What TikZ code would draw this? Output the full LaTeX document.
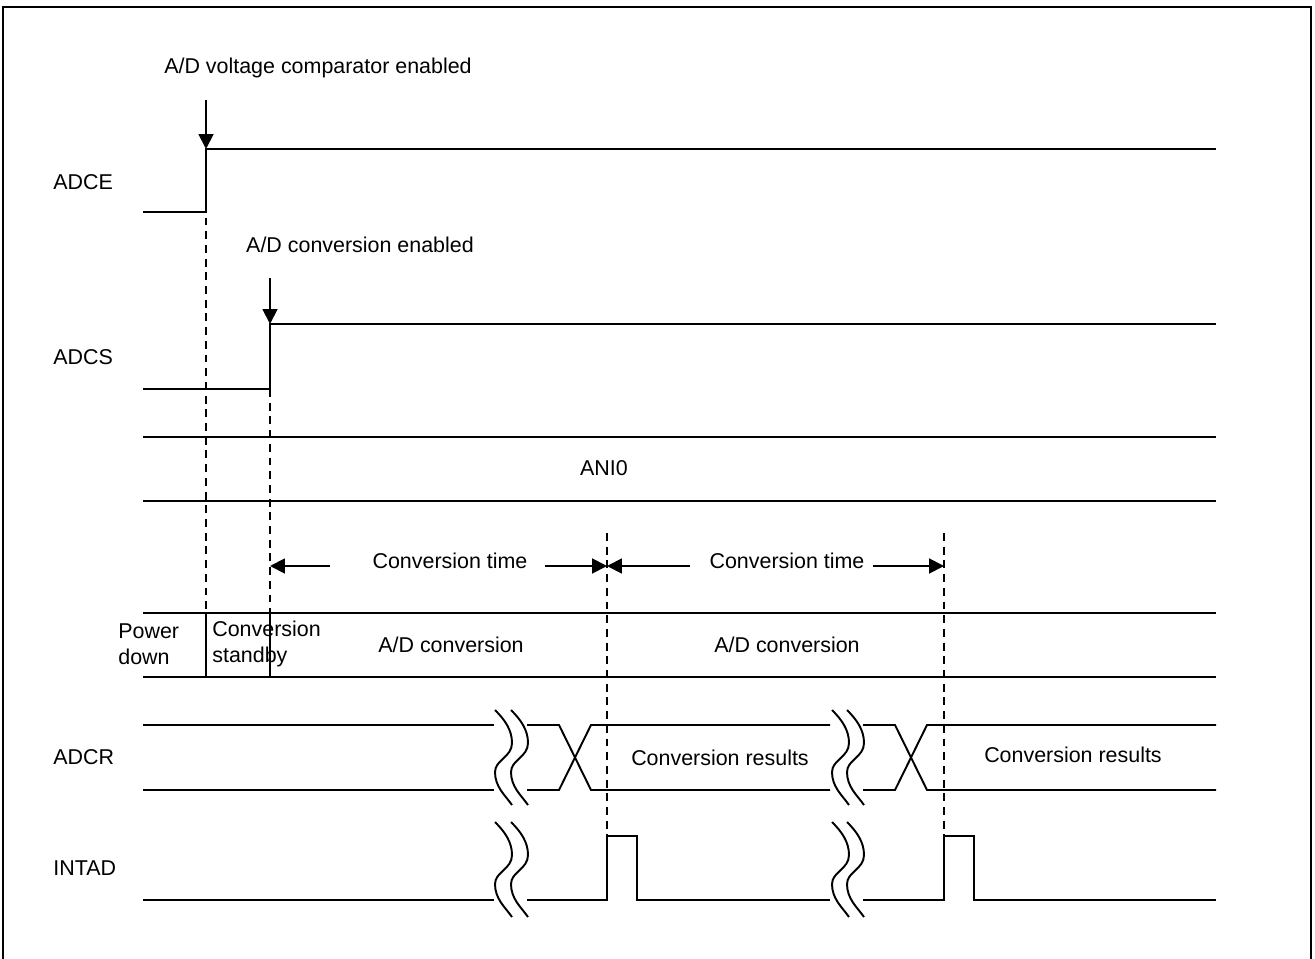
\documentclass[tikz,border=0pt]{standalone}
\usepackage{fontspec}
\setmainfont{Liberation Sans}
\usepackage{tikz}
\usetikzlibrary{arrows.meta,positioning,calc}

\begin{document}
\begin{tikzpicture}[x=0.02cm, y=-0.02cm,
  font=\fontsize{12.2}{14.8}\selectfont,
  sig/.style={line width=1.1pt, line join=miter},
  dsh/.style={line width=1.1pt, dash pattern=on 4.5pt off 3.3pt},
  ar/.style={line width=1.1pt, -{Triangle[length=8.5pt,width=8.5pt]}},
  lbl/.style={anchor=west, inner sep=0pt},
  txt/.style={inner sep=0pt, align=left},
  brk/.pic={\draw[line width=1.1pt] (0,0) .. controls (10,10) and (17,20) .. (17,33)
     .. controls (17,47) and (0,50) .. (0,62) .. controls (0,77) and (10,85) .. (17,95);}]
\useasboundingbox (0,0) rectangle (1315,959);
\draw[line width=1.1pt] (3,959) -- (3,7) -- (1311,7) -- (1311,959);

% signal names
\node[lbl] (adce) at (53,182) {ADCE};
\node[lbl] (adcs) at (53,357) {ADCS};
\node[lbl] (adcr) at (53,757) {ADCR};
\node[lbl] (intad) at (53,868) {INTAD};

% ADCE, ADCS
\draw[sig] (143,212) -- (206,212) -- (206,149) -- (1216,149);
\draw[sig] (143,389) -- (270,389) -- (270,324) -- (1216,324);
\node[txt] (vce) at (318,68) {A/D voltage comparator enabled};
\node[txt] (cve) at (360,245) {A/D conversion enabled};
\coordinate (vcs) at (206,100); \coordinate (vct) at (206,149);
\coordinate (cvs) at (270,278); \coordinate (cvt) at (270,324);
\draw[ar] (vcs) -- (vct);
\draw[ar] (cvs) -- (cvt);

% ANI0
\draw[sig] (143,437) -- (1216,437);
\draw[sig] (143,501) -- (1216,501);
\node[txt] (ani) at (604,468) {ANI0};

% dashed time marks
\draw[dsh] (206,149) -- (206,613);
\draw[dsh] (270,389) -- (270,613);
\draw[dsh] (607,533) -- (607,836);
\draw[dsh] (944,533) -- (944,836);

% conversion time
\node[txt] (ct1) at (450,561) {Conversion time};
\node[txt] (ct2) at (787,561) {Conversion time};
\coordinate (t0) at (270,566); \coordinate (t1) at (607,566); \coordinate (t2) at (944,566);
\draw[ar] (330,566) -- (t0);
\draw[ar] (545,566) -- (t1);
\draw[ar] (690,566) -- (t1);
\draw[ar] (873,566) -- (t2);

% state row
\draw[sig] (143,613) -- (1216,613);
\draw[sig] (143,677) -- (1216,677);
\draw[sig] (206,613) -- (206,677);
\draw[sig] (270,613) -- (270,677);
\node[txt, anchor=west] (pd) at (118,644) {Power\\down};
\node[txt, anchor=west] (cs) at (212,644) {Conversion\\standby};
\node[txt] (ad1) at (451,645) {A/D conversion};
\node[txt] (ad2) at (787,645) {A/D conversion};

% ADCR
\draw[sig] (143,725) -- (494,725);
\draw[sig] (143,790) -- (494,790);
\draw[sig] (527,725) -- (559,725) -- (591,790) -- (830,790);
\draw[sig] (527,790) -- (559,790) -- (591,725) -- (830,725);
\draw[sig] (863,725) -- (895,725) -- (927,790) -- (1216,790);
\draw[sig] (863,790) -- (895,790) -- (927,725) -- (1216,725);
\node[txt] (res1) at (720,758) {Conversion results};
\node[txt] (res2) at (1073,755) {Conversion results};

% INTAD
\draw[sig] (143,900) -- (494,900);
\draw[sig] (527,900) -- (607,900) -- (607,836) -- (637,836) -- (637,900) -- (830,900);
\draw[sig] (863,900) -- (944,900) -- (944,836) -- (974,836) -- (974,900) -- (1216,900);

% breaks
\foreach \bx in {495,511,832,847} {
  \pic at (\bx,710) {brk};
  \pic at (\bx,822) {brk};
}
\end{tikzpicture}
\end{document}
